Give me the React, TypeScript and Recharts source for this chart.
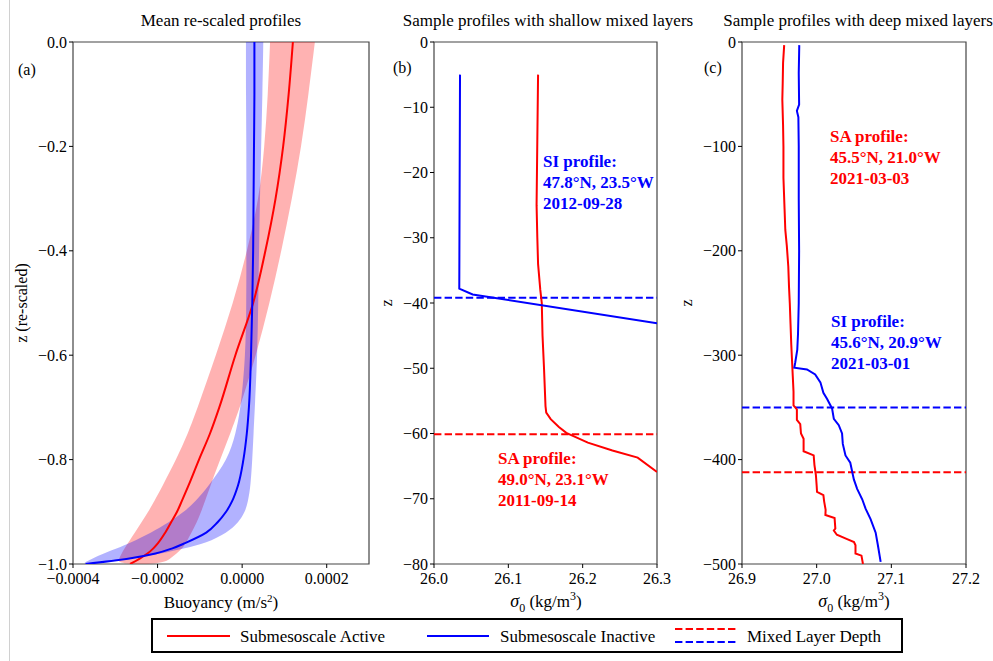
import React from "react"
import { ScatterChart, Scatter, XAxis, YAxis, ReferenceLine, ReferenceArea } from "recharts"

const W = 993
const H = 661
const PLOT_TOP = 42
const PLOT_BOTTOM = 564
const RED = "#ff0000"
const BLUE = "#0000ff"
const FONT = "'Liberation Serif', 'DejaVu Serif', serif"

// ---- panel (a) mean re-scaled profiles (buoyancy in units of 1e-5 m/s^2)
const zA = [0, -0.1, -0.2, -0.3, -0.4, -0.5, -0.6, -0.7, -0.75, -0.8, -0.85, -0.88, -0.9, -0.92, -0.94, -0.96, -0.97, -0.98, -0.99, -1.0]
const saMean = [12.0, 11.0, 9.7, 7.9, 5.5, 2.6, -1.6, -5.4, -7.6, -10.2, -12.7, -14.3, -15.4, -16.8, -18.2, -19.9, -21.0, -22.4, -24.3, -26.5]
const saLo = [6.6, 6.1, 5.3, 4.0, 1.2, -2.1, -6.2, -10.5, -12.8, -15.6, -18.8, -20.8, -22.2, -23.8, -25.4, -27.0, -27.8, -28.5, -29.1, -29.6]
const saHi = [17.2, 15.7, 14.0, 11.8, 9.3, 6.5, 3.3, -0.5, -2.8, -5.2, -7.5, -8.8, -9.7, -10.7, -12.0, -13.3, -14.1, -15.5, -17.0, -19.0]
const siMean = [2.9, 2.9, 2.8, 2.7, 2.6, 2.4, 2.1, 1.6, 1.1, 0.3, -1.0, -2.4, -3.8, -5.8, -8.5, -13.5, -16.5, -20.5, -27.0, -37.0]
const siLo = [0.9, 0.9, 1.0, 1.0, 1.0, 1.0, 0.8, -0.3, -1.5, -3.4, -7.9, -11.0, -13.7, -17.3, -21.5, -26.6, -29.5, -32.8, -35.5, -38.0]
const siHi = [5.0, 4.8, 4.5, 4.2, 4.0, 3.8, 3.6, 3.0, 2.7, 2.4, 2.0, 1.4, 0.7, -0.8, -3.5, -8.5, -13.5, -19.0, -26.5, -36.0]

// ---- panel (b) shallow mixed layers
const bSaSigma = [26.14, 26.139, 26.138, 26.139, 26.14, 26.143, 26.145, 26.146, 26.148, 26.15, 26.151, 26.157, 26.168, 26.178, 26.207, 26.24, 26.274, 26.3]
const bSaZ = [-5, -15, -25, -30, -34, -38, -40, -45, -50, -55.8, -56.8, -57.8, -59, -59.9, -61.4, -62.6, -63.7, -65.9]
const bSiSigma = [26.035, 26.034, 26.052, 26.3]
const bSiZ = [-5, -37.8, -38.7, -43.1]
const bMldSa = -60.1
const bMldSi = -39.2

// ---- panel (c) deep mixed layers
const cSaSigma = [26.9565, 26.955, 26.9545, 26.954, 26.955, 26.9555, 26.9555, 26.957, 26.958, 26.96, 26.962, 26.963, 26.964, 26.965, 26.966, 26.967, 26.968, 26.969, 26.969, 26.9735, 26.9735, 26.978, 26.979, 26.9825, 26.9825, 26.996, 26.997, 26.999, 27.0, 27.0005, 27.009, 27.01, 27.012, 27.0117, 27.024, 27.025, 27.023, 27.027, 27.04, 27.05, 27.052, 27.052, 27.06, 27.062]
const cSaZ = [-3, -20, -40, -55, -80, -100, -130, -160, -180, -195, -215, -235, -250, -270, -290, -305, -320, -335, -348, -352, -362, -366, -375, -380, -392, -396, -405, -415, -425, -431, -434, -440, -448, -453, -456, -466, -468, -472, -476, -479, -482, -490, -492, -500]
const cSiSigma = [26.9767, 26.976, 26.9765, 26.9735, 26.9755, 26.976, 26.976, 26.9765, 26.976, 26.975, 26.974, 26.9713, 26.97, 26.987, 26.998, 27.005, 27.009, 27.014, 27.0206, 27.023, 27.0296, 27.034, 27.035, 27.0386, 27.045, 27.0498, 27.0542, 27.061, 27.0655, 27.0722, 27.079, 27.082, 27.0857]
const cSiZ = [-3, -30, -60, -66, -72, -100, -150, -200, -250, -280, -295, -307, -312, -313.6, -318.4, -326, -336, -342, -351, -361, -367, -375, -385, -396, -403, -419, -428, -438, -447, -457, -470, -482, -498]
const cMldSa = -412
const cMldSi = -350

const pts = (xs: number[], ys: number[], k = 1) => xs.map((x, i) => ({ x: x * k, y: ys[i] }))
// closed outline: left edge going down, right edge coming back up
const band = (lo: number[], hi: number[], z: number[]) => [
  ...pts(lo, z, 1e-5),
  ...pts(hi, z, 1e-5).reverse(),
]

const fmt = (d: number) => (v: number) => (v < 0 ? "\u2212" : "") + Math.abs(v).toFixed(d)
const tickStyle = { fill: "#000", fontSize: 16, fontFamily: FONT }
const NoDot = () => <g />

function Panel(props: any) {
  const { left, right, xDomain, xTicks, xDigits, yDomain, yTicks, yDigits, children } = props
  return (
    <div style={{ position: "absolute", left: 0, top: 0 }}>
      <ScatterChart
        width={W}
        height={H}
        margin={{ top: PLOT_TOP, bottom: H - PLOT_BOTTOM - 40, left: left - 60, right: W - right }}
      >
        <XAxis
          type="number"
          dataKey="x"
          domain={xDomain}
          ticks={xTicks}
          allowDataOverflow
          interval={0}
          height={40}
          tickSize={4}
          tickMargin={5}
          tick={tickStyle}
          tickFormatter={fmt(xDigits)}
          axisLine={false}
          tickLine={{ stroke: "#000" }}
        />
        <YAxis
          type="number"
          dataKey="y"
          domain={yDomain}
          ticks={yTicks}
          allowDataOverflow
          interval={0}
          width={60}
          tickSize={4}
          tickMargin={2}
          tick={tickStyle}
          tickFormatter={fmt(yDigits)}
          axisLine={false}
          tickLine={{ stroke: "#000" }}
        />
        {children}
        <ReferenceArea x1={xDomain[0]} x2={xDomain[1]} y1={yDomain[0]} y2={yDomain[1]} fill="none" fillOpacity={0} stroke="#444" strokeWidth={1.2} />
      </ScatterChart>
    </div>
  )
}

const txt = (style: React.CSSProperties): React.CSSProperties => ({ position: "absolute", fontFamily: FONT, whiteSpace: "nowrap", ...style })
const centered = (x: number, y: number, size: number): React.CSSProperties =>
  txt({ left: x, top: y, fontSize: size, transform: "translate(-50%, -50%)", lineHeight: 1 })
const rotated = (x: number, y: number, size: number): React.CSSProperties =>
  txt({ left: x, top: y, fontSize: size, transform: "translate(-50%, -50%) rotate(-90deg)", lineHeight: 1 })
const note = (x: number, y: number, color: string): React.CSSProperties =>
  txt({ left: x, top: y, fontSize: 17, fontWeight: "bold", color, lineHeight: "21px" })

export default function App() {
  const lineSa = { stroke: RED, strokeWidth: 2 }
  const lineSi = { stroke: BLUE, strokeWidth: 2 }
  const sigmaLabel = (
    <>
      <i style={{ fontSize: 18 }}>σ</i><sub style={{ fontSize: 12 }}>0</sub> (kg/m<sup style={{ fontSize: 12 }}>3</sup>)
    </>
  )
  return (
    <div style={{ position: "absolute", left: 0, top: 0, width: W, height: H, background: "#fff", overflow: "hidden", fontFamily: FONT }}>
      <div style={{ position: "absolute", left: 9, top: 0, width: 1, height: H, background: "#d0d0d0" }} />

      <Panel left={73} right={369} xDomain={[-0.0004, 0.0003]} xTicks={[-0.0004, -0.0002, 0, 0.0002]} xDigits={4}
        yDomain={[-1, 0]} yTicks={[0, -0.2, -0.4, -0.6, -0.8, -1]} yDigits={1}>
        <Scatter data={band(saLo, saHi, zA)} shape={NoDot} lineJointType="basis" line={{ stroke: "none", fill: RED, fillOpacity: 0.3 }} isAnimationActive={false} />
        <Scatter data={band(siLo, siHi, zA)} shape={NoDot} lineJointType="basis" line={{ stroke: "none", fill: BLUE, fillOpacity: 0.3 }} isAnimationActive={false} />
        <Scatter data={pts(saMean, zA, 1e-5)} shape={NoDot} lineJointType="monotoneY" line={lineSa} isAnimationActive={false} />
        <Scatter data={pts(siMean, zA, 1e-5)} shape={NoDot} lineJointType="monotoneY" line={lineSi} isAnimationActive={false} />
      </Panel>

      <Panel left={434} right={657} xDomain={[26.0, 26.3]} xTicks={[26.0, 26.1, 26.2, 26.3]} xDigits={1}
        yDomain={[-80, 0]} yTicks={[0, -10, -20, -30, -40, -50, -60, -70, -80]} yDigits={0}>
        <Scatter data={pts(bSaSigma, bSaZ)} shape={NoDot} line={lineSa} isAnimationActive={false} />
        <Scatter data={pts(bSiSigma, bSiZ)} shape={NoDot} line={lineSi} isAnimationActive={false} />
        <ReferenceLine y={bMldSi} stroke={BLUE} strokeWidth={2} strokeDasharray="7.4 3.2" />
        <ReferenceLine y={bMldSa} stroke={RED} strokeWidth={2} strokeDasharray="7.4 3.2" />
      </Panel>

      <Panel left={742} right={966} xDomain={[26.9, 27.2]} xTicks={[26.9, 27.0, 27.1, 27.2]} xDigits={1}
        yDomain={[-500, 0]} yTicks={[0, -100, -200, -300, -400, -500]} yDigits={0}>
        <Scatter data={pts(cSaSigma, cSaZ)} shape={NoDot} line={lineSa} isAnimationActive={false} />
        <Scatter data={pts(cSiSigma, cSiZ)} shape={NoDot} line={lineSi} isAnimationActive={false} />
        <ReferenceLine y={cMldSi} stroke={BLUE} strokeWidth={2} strokeDasharray="7.4 3.2" />
        <ReferenceLine y={cMldSa} stroke={RED} strokeWidth={2} strokeDasharray="7.4 3.2" />
      </Panel>

      {/* titles */}
      <div style={centered(221, 20, 17)}>Mean re-scaled profiles</div>
      <div style={centered(548, 20, 17)}>Sample profiles with shallow mixed layers</div>
      <div style={centered(858, 20, 17)}>Sample profiles with deep mixed layers</div>

      {/* panel letters */}
      <div style={txt({ left: 18, top: 60, fontSize: 16, lineHeight: "20px" })}>(a)</div>
      <div style={txt({ left: 393, top: 58, fontSize: 16, lineHeight: "20px" })}>(b)</div>
      <div style={txt({ left: 704, top: 58, fontSize: 16, lineHeight: "20px" })}>(c)</div>

      {/* axis labels */}
      <div style={rotated(22, 303, 16)}>z (re-scaled)</div>
      <div style={rotated(387, 303, 16)}>z</div>
      <div style={rotated(687, 303, 16)}>z</div>
      <div style={centered(221, 602, 17)}>Buoyancy (m/s<sup style={{ fontSize: 11 }}>2</sup>)</div>
      <div style={centered(546, 602, 17)}>{sigmaLabel}</div>
      <div style={centered(854, 602, 17)}>{sigmaLabel}</div>

      {/* annotations */}
      <div style={note(543, 151, BLUE)}>SI profile:<br />47.8°N, 23.5°W<br />2012-09-28</div>
      <div style={note(498, 448, RED)}>SA profile:<br />49.0°N, 23.1°W<br />2011-09-14</div>
      <div style={note(830, 126, RED)}>SA profile:<br />45.5°N, 21.0°W<br />2021-03-03</div>
      <div style={note(831, 311, BLUE)}>SI profile:<br />45.6°N, 20.9°W<br />2021-03-01</div>

      {/* legend */}
      <svg style={{ position: "absolute", left: 0, top: 0 }} width={W} height={H}>
        <rect x={152} y={619} width={750} height={33} fill="#fff" stroke="#000" strokeWidth={2} />
        <line x1={167} x2={230} y1={636} y2={636} stroke={RED} strokeWidth={2} />
        <text x={240} y={636} dominantBaseline="central" fontSize={17} fontFamily={FONT}>Submesoscale Active</text>
        <line x1={427} x2={489} y1={636} y2={636} stroke={BLUE} strokeWidth={2} />
        <text x={500} y={636} dominantBaseline="central" fontSize={17} fontFamily={FONT}>Submesoscale Inactive</text>
        <line x1={675} x2={737} y1={629} y2={629} stroke={RED} strokeWidth={2} strokeDasharray="7.4 3.2" />
        <line x1={675} x2={737} y1={642} y2={642} stroke={BLUE} strokeWidth={2} strokeDasharray="7.4 3.2" />
        <text x={747} y={636} dominantBaseline="central" fontSize={17} fontFamily={FONT}>Mixed Layer Depth</text>
      </svg>
    </div>
  )
}
